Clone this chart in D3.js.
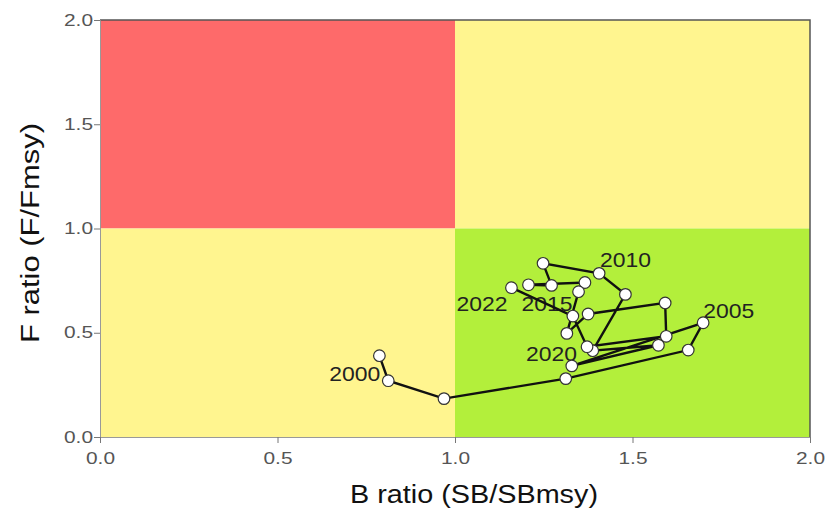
<!DOCTYPE html>
<html>
<head>
<meta charset="utf-8">
<script src="https://cdn.jsdelivr.net/npm/d3@7"></script>
<style>
  body { margin: 0; background: #fff; }
  text { font-family: "Liberation Sans", Arial, sans-serif; }
</style>
</head>
<body>
<script>
// stock trajectory, one point per year
var years = [2000,2001,2002,2003,2004,2005,2006,2007,2008,2009,2010,2011,
             2012,2013,2014,2015,2016,2017,2018,2019,2020,2021,2022];
var bRatio = [0.787,0.812,0.969,1.312,1.657,1.699,1.329,1.573,1.388,1.480,1.406,1.248,
              1.272,1.207,1.366,1.348,1.315,1.375,1.592,1.595,1.372,1.332,1.159];
var fRatio = [0.390,0.270,0.184,0.280,0.417,0.548,0.341,0.440,0.414,0.684,0.785,0.833,
              0.727,0.730,0.741,0.697,0.497,0.590,0.643,0.483,0.433,0.580,0.716];
var labelYears = [2000,2005,2010,2015,2020,2022];
var ticks = [0, 0.5, 1.0, 1.5, 2.0];

var width = 828, height = 519;
var x = d3.scaleLinear().domain([0,2]).range([100,810]);
var y = d3.scaleLinear().domain([0,2]).range([437,20]);

var svg = d3.select("body").append("svg")
    .attr("width", width)
    .attr("height", height);

// kobe quadrants
var quads = [
  {x0:0, x1:1, y0:1, y1:2, c:"#fe6a6a"},
  {x0:1, x1:2, y0:1, y1:2, c:"#fff58f"},
  {x0:0, x1:1, y0:0, y1:1, c:"#fff58f"},
  {x0:1, x1:2, y0:0, y1:1, c:"#b3ef3b"}
];
svg.append("g").selectAll("rect")
  .data(quads)
  .enter().append("rect")
    .attr("x", function(d){ return x(d.x0); })
    .attr("y", function(d){ return y(d.y1); })
    .attr("width", function(d){ return x(d.x1) - x(d.x0); })
    .attr("height", function(d){ return y(d.y0) - y(d.y1); })
    .style("fill", function(d){ return d.c; });

// frame top + right
svg.append("path")
    .attr("d", "M" + x(0) + "," + y(2) + "H" + x(2) + "V" + y(0))
    .style("fill", "none")
    .style("stroke", "#555")
    .style("stroke-width", 1.5);

// axes
var yAxis = svg.append("g")
    .attr("transform", "translate(" + x(0) + ",0)")
    .call(d3.axisLeft(y).tickValues(ticks).tickSize(6).tickFormat(d3.format(".1f")));
var xAxis = svg.append("g")
    .attr("transform", "translate(0," + y(0) + ")")
    .call(d3.axisBottom(x).tickValues(ticks).tickSize(6).tickFormat(d3.format(".1f")));

[xAxis, yAxis].forEach(function(a){
  a.select(".domain").style("stroke", "#999");
  a.selectAll(".tick line").style("stroke", "#777");
  a.selectAll(".tick text")
    .style("font-size", "16px")
    .style("fill", "#555")
    .attr("textLength", 29)
    .attr("lengthAdjust", "spacingAndGlyphs");
});
yAxis.selectAll(".tick text").attr("x", -7);
xAxis.selectAll(".tick text").attr("y", 16);

// axis titles
svg.append("text")
    .attr("x", 474)
    .attr("y", 503)
    .attr("text-anchor", "middle")
    .attr("textLength", 248)
    .attr("lengthAdjust", "spacingAndGlyphs")
    .style("font-size", "26px")
    .style("fill", "#111")
    .text("B ratio (SB/SBmsy)");

svg.append("text")
    .attr("transform", "translate(39,233) rotate(-90)")
    .attr("text-anchor", "middle")
    .attr("textLength", 220)
    .attr("lengthAdjust", "spacingAndGlyphs")
    .style("font-size", "26px")
    .style("fill", "#111")
    .text("F ratio (F/Fmsy)");

var pts = years.map(function(yr, i){ return {year: yr, b: bRatio[i], f: fRatio[i]}; });

// year labels, placed by hand round their points
var labelPos = {
  2000: {dx: 1,    dy: 25,  anchor: "end"},
  2005: {dx: 0,    dy: -5,  anchor: "start"},
  2010: {dx: 1,    dy: -6,  anchor: "start"},
  2015: {dx: -6,   dy: 19,  anchor: "end"},
  2020: {dx: -10,  dy: 14,  anchor: "end"},
  2022: {dx: -4,   dy: 23,  anchor: "end"}
};
svg.append("g").selectAll("text")
  .data(pts.filter(function(d){ return labelYears.indexOf(d.year) >= 0; }))
  .enter().append("text")
    .attr("x", function(d){ return x(d.b) + labelPos[d.year].dx; })
    .attr("y", function(d){ return y(d.f) + labelPos[d.year].dy; })
    .attr("text-anchor", function(d){ return labelPos[d.year].anchor; })
    .attr("textLength", 51)
    .attr("lengthAdjust", "spacingAndGlyphs")
    .style("font-size", "21px")
    .style("fill", "#222")
    .text(function(d){ return d.year; });

var line = d3.line()
    .x(function(d){ return x(d.b); })
    .y(function(d){ return y(d.f); });

svg.append("path")
    .datum(pts)
    .attr("d", line)
    .style("fill", "none")
    .style("stroke", "#111")
    .style("stroke-width", 2.4);

svg.append("g").selectAll("circle")
  .data(pts)
  .enter().append("circle")
    .attr("cx", function(d){ return x(d.b); })
    .attr("cy", function(d){ return y(d.f); })
    .attr("r", 5.8)
    .style("fill", "#fff")
    .style("stroke", "#333")
    .style("stroke-width", 1.2);
</script>
</body>
</html>
